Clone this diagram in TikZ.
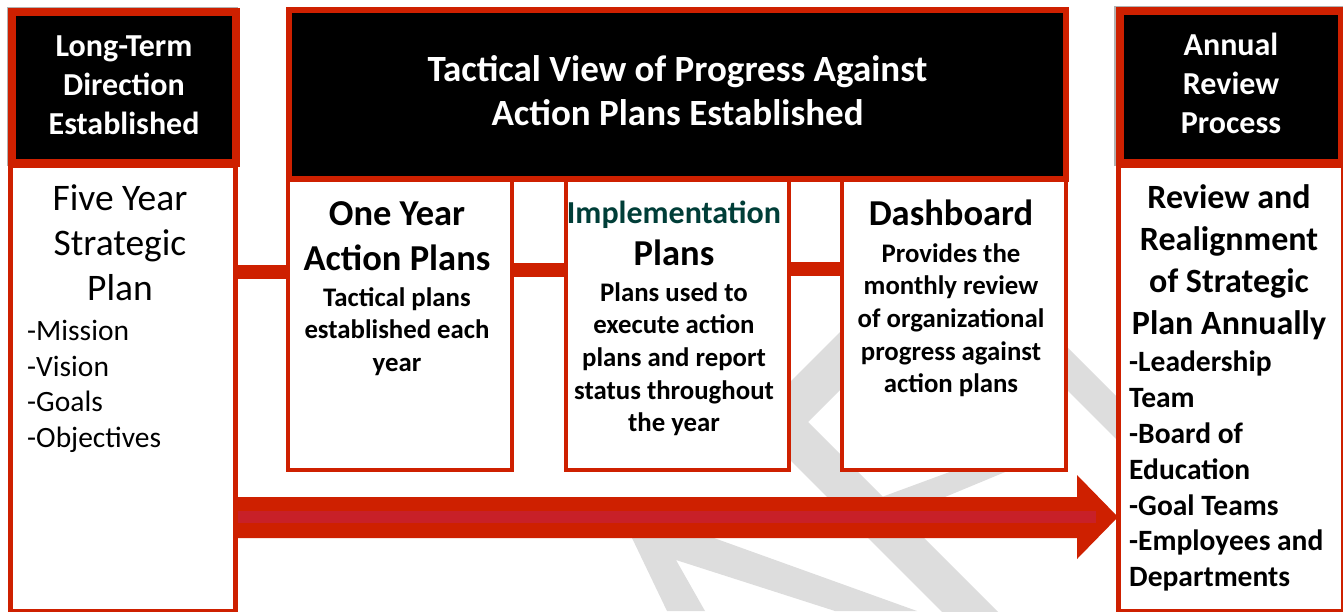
\documentclass[tikz,border=0pt]{standalone}
\usepackage{fontspec}
\setmainfont{Carlito}
\usetikzlibrary{calc}
\definecolor{bred}{RGB}{206,32,0}
\definecolor{crim}{RGB}{200,32,40}
\definecolor{wmgrey}{RGB}{221,221,221}
\definecolor{implteal}{RGB}{0,62,56}
\begin{document}
\begin{tikzpicture}[x=1pt,y=-1pt,
  hdrbox/.style={draw=bred, line width=8pt, fill=black, inner sep=0pt, anchor=north west, text=white, align=center, font=\bfseries\fontsize{32}{39}\selectfont},
  bodybox/.style={draw=bred, line width=5pt, fill=white, inner sep=0pt, anchor=north west},
  planbox/.style={draw=bred, line width=4.5pt, fill=white, inner sep=0pt, anchor=north west},
  shadowbox/.style={fill=black!30, inner sep=0pt, anchor=north west},
  bigtitle/.style={anchor=north, align=center, inner sep=0pt, font=\bfseries\fontsize{36.5}{45}\selectfont},
  desc/.style={anchor=north, align=center, inner sep=0pt, font=\bfseries\fontsize{26.8}{32.7}\selectfont},
  bar/.style={draw=bred, line width=14pt},
  wm/.style={fill=wmgrey}
]
\useasboundingbox (0,0) rectangle (1343,611);
% watermark
\fill[wm] (900,272) -- (751,421) -- (981,651) -- (1037,651) -- (808,422) -- (958,272) -- cycle;
\fill[wm] (1000,280) -- (1150,430) -- (1150,473) -- (1000,323) -- cycle;
\fill[wm] (860,505) -- (885,497) -- (945,497) -- (1010,470) -- (955,470) -- cycle;
\fill[wm] (632,538) -- (714,538) -- (917,611) -- (835,611) -- (676,560) -- (705,611) -- (667,611) -- cycle;
% body boxes
\node[bodybox, minimum width=225pt, minimum height=446pt] (five) at (7.5,163) {};
\node[bodybox, minimum width=225pt, minimum height=445.5pt] (rbody) at (1115.5,163) {};
\node[planbox, minimum width=224pt, minimum height=291.5pt] (one) at (285.5,176) {};
\node[planbox, minimum width=223pt, minimum height=291.5pt] (impl) at (563.5,176) {};
\node[planbox, minimum width=224pt, minimum height=291.5pt] (dash) at (839.5,176) {};
% headers
\node[shadowbox, minimum width=231pt, minimum height=159pt] (lshadow) at (7,7) {};
\node[shadowbox, minimum width=229pt, minimum height=160pt] (rshadow) at (1114,6) {};
\node[hdrbox, minimum width=224pt, minimum height=151pt] (lhdr) at (8,8) {\raisebox{3pt}{\begin{tabular}{@{}c@{}}Long-Term\\Direction\\Established\end{tabular}}};
\node[hdrbox, minimum width=222pt, minimum height=152pt] (rhdr) at (1116,7) {\raisebox{3pt}{\begin{tabular}{@{}c@{}}Annual\\Review\\Process\end{tabular}}};
\node[hdrbox, line width=6pt, minimum width=777pt, minimum height=169pt, font=\bfseries\fontsize{37}{44}\selectfont] (mhdr) at (286,7) {\raisebox{3pt}{\begin{tabular}{@{}c@{}}Tactical View of Progress Against\\Action Plans Established\end{tabular}}};
% connectors between plan boxes
\draw[bar] (five.east |- 0,272) -- (one.west |- 0,272);
\draw[bar] (one.east |- 0,270) -- (impl.west |- 0,270);
\draw[bar] (impl.east |- 0,269) -- (dash.west |- 0,269);
% big arrow
\coordinate (tip) at ($(rbody.west |- 0,517)+(2.5,0)$);
\fill[bred] (five.east |- 0,497) -- (1077,497) -- (1077,475) -- (tip) -- (1077,559) -- (1077,538) -- (five.east |- 0,538) -- cycle;
\fill[crim] (five.east |- 0,511) rectangle (1096,523);
% texts
\node[anchor=north, align=center, inner sep=0pt, font=\fontsize{37.5}{45}\selectfont] (fivet) at (120,184) {Five Year\\Strategic\\Plan};
\node[anchor=north west, align=left, inner sep=0pt, font=\fontsize{29.5}{35.7}\selectfont] (fivel) at (27,320) {-Mission\\-Vision\\-Goals\\-Objectives};
\node[bigtitle] (onet) at (397,201) {One Year\\Action Plans};
\node[desc] (oned) at (397,287) {Tactical plans\\established each\\year};
\node[bigtitle, text=implteal, font=\bfseries\fontsize{32}{38}\selectfont] (implt) at (674,201) {Implementation};
\node[bigtitle] (implp) at (674,240) {Plans};
\node[desc] (impld) at (674,282) {Plans used to\\execute action\\plans and report\\status throughout\\the year};
\node[bigtitle] (dasht) at (951,200) {Dashboard};
\node[desc] (dashd) at (951,243) {Provides the\\monthly review\\of organizational\\progress against\\action plans};
\node[bigtitle, font=\bfseries\fontsize{34}{42}\selectfont] (revt) at (1229,184) {Review and\\Realignment\\of Strategic\\Plan Annually};
\node[anchor=north west, align=left, inner sep=0pt, font=\bfseries\fontsize{29.5}{35.8}\selectfont] (revl) at (1129,351) {-Leadership\\Team\\-Board of\\Education\\-Goal Teams\\-Employees and\\Departments};
\end{tikzpicture}
\end{document}
